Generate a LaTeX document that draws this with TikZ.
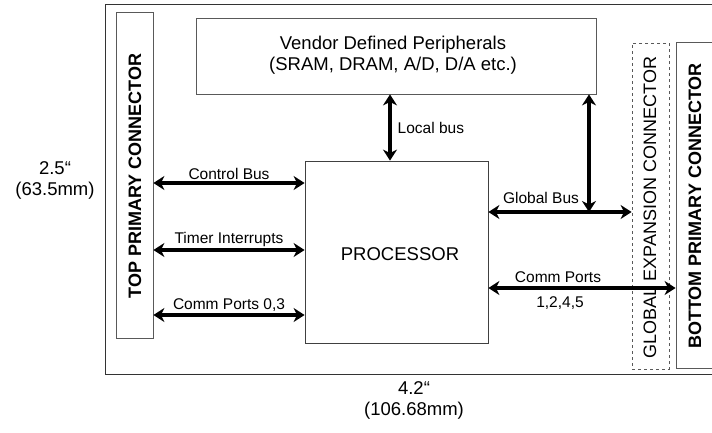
\documentclass[tikz,border=0pt]{standalone}
\usepackage{fontspec}
\setmainfont{Liberation Sans}
\usetikzlibrary{arrows.meta}
\begin{document}
\begin{tikzpicture}[x=1pt,y=-1pt,
  box/.style={draw=black!65,line width=0.8pt,inner sep=0pt,rectangle},
  bus/.style={line width=3.2pt,{Stealth[length=11pt,width=14pt,inset=3.5pt]}-{Stealth[length=11pt,width=14pt,inset=3.5pt]}},
  lbl/.style={font=\fontsize{15.5}{17}\selectfont,inner sep=1.5pt},
  big/.style={font=\fontsize{18.5}{21}\selectfont},
  vert/.style={rotate=90,font=\fontsize{18}{20}\selectfont}]
\useasboundingbox (0,0) rectangle (712,432);
\clip (0,0) rectangle (712,432);
% outer frame
\draw[draw=black!80,line width=0.8pt] (105,4) rectangle (730,374);
% boxes
\node[box,minimum width=37pt,minimum height=326pt] (top) at (134.5,175) {};
\node[vert,font=\fontsize{18}{20}\selectfont\bfseries] (toptxt) at (135,176) {TOP PRIMARY CONNECTOR};
\node[box,minimum width=400pt,minimum height=76pt] (vendor) at (396,56) {};
\node[big,align=center] (vendortxt) at (393,55) {Vendor Defined Peripherals\\(SRAM, DRAM, A/D, D/A etc.)};
\node[box,draw=black!75,minimum width=183pt,minimum height=182pt] (proc) at (396.5,252) {};
\node[big] (proctxt) at (400,254) {PROCESSOR};
\node[box,dashed,minimum width=37pt,minimum height=326pt] (gexp) at (650.5,206) {};
\node[vert] (gexptxt) at (650,207.5) {GLOBAL EXPANSION CONNECTOR};
\node[box,minimum width=40pt,minimum height=326pt] (bot) at (696,205) {};
\node[vert,font=\fontsize{18}{20}\selectfont\bfseries] (bottxt) at (695,206) {BOTTOM PRIMARY CONNECTOR};
% left buses
\draw[bus] (top.east |- 0,183) -- node[lbl,above] (l1) {Control Bus} (proc.west |- 0,183);
\draw[bus] (top.east |- 0,250) -- node[lbl,above] (l2) {Timer Interrupts} (proc.west |- 0,250);
\draw[bus] (top.east |- 0,315) -- node[lbl,above] (l3) {Comm Ports 0,3} (proc.west |- 0,315);
% local bus
\draw[bus] (vendor.south -| 390,0) -- (proc.north -| 390,0);
\node[lbl,anchor=west] (l4) at (396,128) {Local bus};
% global bus
\draw[bus] (proc.east |- 0,212) -- (gexp.west |- 0,212);
\coordinate (gb) at (589,212);
\draw[bus] (vendor.south -| gb) -- (gb);
\node[lbl] (l5) at (541,198) {Global Bus};
% comm ports right
\draw[bus] (proc.east |- 0,288) -- (bot.west |- 0,288);
\node[lbl] (l6) at (558,277) {Comm Ports};
\node[lbl] (l7) at (560,303) {1,2,4,5};
% dimensions
\node[big,align=center] (d1) at (55,180) {2.5“\\(63.5mm)};
\node[big,align=center] (d2) at (414,400) {4.2“\\(106.68mm)};
\end{tikzpicture}
\end{document}
